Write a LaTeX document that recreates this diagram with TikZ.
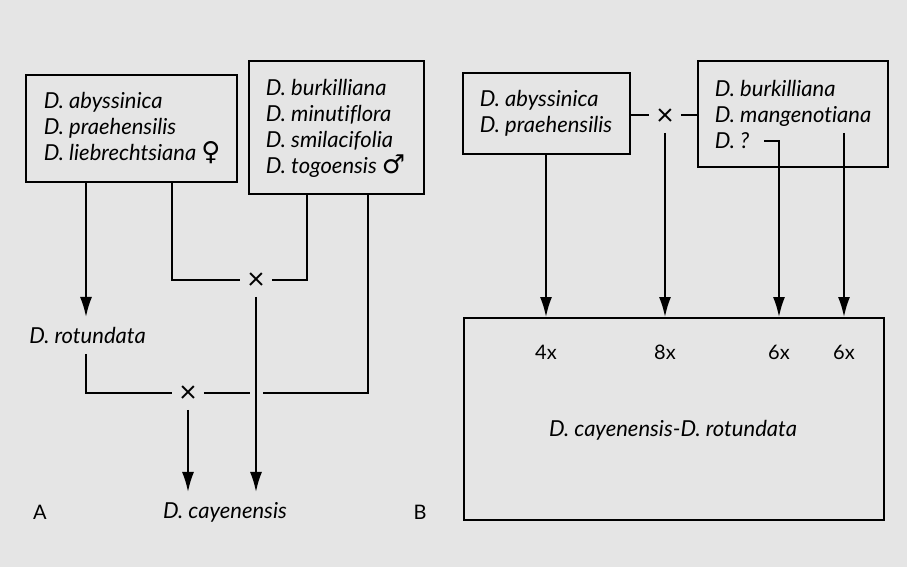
\documentclass[tikz,border=0pt]{standalone}
\usepackage{fontspec}
\setmainfont{Lato}[Ligatures=NoCommon]
\newfontfamily\symfont{DejaVu Sans}
\usetikzlibrary{arrows.meta,calc}
\definecolor{bg}{RGB}{229,229,229}
\newcommand{\femsym}{{\upshape\symfont\fontsize{13pt}{13pt}\selectfont ♀}}
\newcommand{\malsym}{{\upshape\symfont\fontsize{13pt}{13pt}\selectfont ♂}}
\begin{document}
\begin{tikzpicture}[x=0.5pt,y=-0.5pt,
  line width=0.95pt,
  every node/.style={font=\fontsize{11pt}{13pt}\selectfont\itshape},
  spbox/.style={draw,line width=0.95pt,inner sep=0pt,anchor=center},
  sptext/.style={align=left,inner sep=0pt,anchor=west},
  arr/.style={-{Latex[length=10pt,width=6pt]}},
  cross/.style={font=\fontsize{15pt}{15pt}\selectfont\upshape,inner sep=0pt,minimum width=15,minimum height=15},
  lbl/.style={font=\fontsize{10pt}{12pt}\selectfont\upshape,inner sep=0pt}]
\useasboundingbox[fill=bg] (0,0) rectangle (907,567);
% Part A
\node[spbox,minimum width=105.5pt,minimum height=53.5pt] (A1) at (131.5,128.5) {};
\node[sptext] (A1t) at (43,128.5) {D. abyssinica\\D. praehensilis\\D. liebrechtsiana \femsym};
\node[spbox,minimum width=87.5pt,minimum height=66.5pt] (A2) at (336.5,127.5) {};
\node[sptext] (A2t) at (265,128.5) {D. burkilliana\\D. minutiflora\\D. smilacifolia\\D. togoensis \malsym};
\node[inner sep=0pt] (rot) at (87.5,335) {D. rotundata};
\node[inner sep=0pt] (cay) at (225,512) {D. cayenensis};
\node[cross] (xa1) at (256,281) {×};
\node[cross] (xa2) at (188,394) {×};
\node[lbl] (la) at (40,512) {A};
\node[lbl] (lb) at (420,512) {B};
\coordinate (a1l) at (86,182);
\coordinate (a1r) at (172,182);
\coordinate (a2l) at (307,194);
\coordinate (a2r) at (368,194);
\coordinate (rotb) at (86,354);
\draw[arr] (a1l) -- (86,317);
\draw (a1r) -- (172,280) -- (xa1.west |- 0,280);
\draw (xa1.east |- 0,280) -- (a2l |- 0,280) -- (a2l);
\draw[arr] (xa1.south) -- (256,492);
\draw (rotb) -- (86,393) -- (xa2.west |- 0,393);
\draw (xa2.east |- 0,393) -- (250,393);
\draw (263,393) -- (a2r |- 0,393) -- (a2r);
\draw[arr] (xa2.south) -- (188,492);
% Part B
\node[spbox,minimum width=83.5pt,minimum height=40.5pt] (B1) at (546.5,113.5) {};
\node[sptext] (B1t) at (479,113.5) {D. abyssinica\\D. praehensilis};
\node[spbox,minimum width=95pt,minimum height=53pt] (B2) at (793,114) {};
\node[sptext] (B2t) at (714,114) {D. burkilliana\\D. mangenotiana\\D. ?};
\node[draw,minimum width=210pt,minimum height=101pt,inner sep=0pt] (C) at (674,419) {};
\node[inner sep=0pt] (ct) at (673,430) {D. cayenensis-D. rotundata};
\node[cross] (xb) at (665,117) {×};
\node[lbl] (n4) at (546,352) {4x};
\node[lbl] (n8) at (665,352) {8x};
\node[lbl] (n6a) at (779,352) {6x};
\node[lbl] (n6b) at (844,352) {6x};
\coordinate (q) at (764,141);
\coordinate (m) at (844,133);
\draw (B1.east |- 0,115) -- (xb.west |- 0,115);
\draw (xb.east |- 0,115) -- (B2.west |- 0,115);
\draw[arr] (B1.south -| n4) -- (C.north -| n4);
\draw[arr] (xb.south) -- (C.north -| xb);
\draw[arr] (q) -- (779,141) -- (C.north -| n6a);
\draw[arr] (m) -- (C.north -| n6b);
\end{tikzpicture}
\end{document}
